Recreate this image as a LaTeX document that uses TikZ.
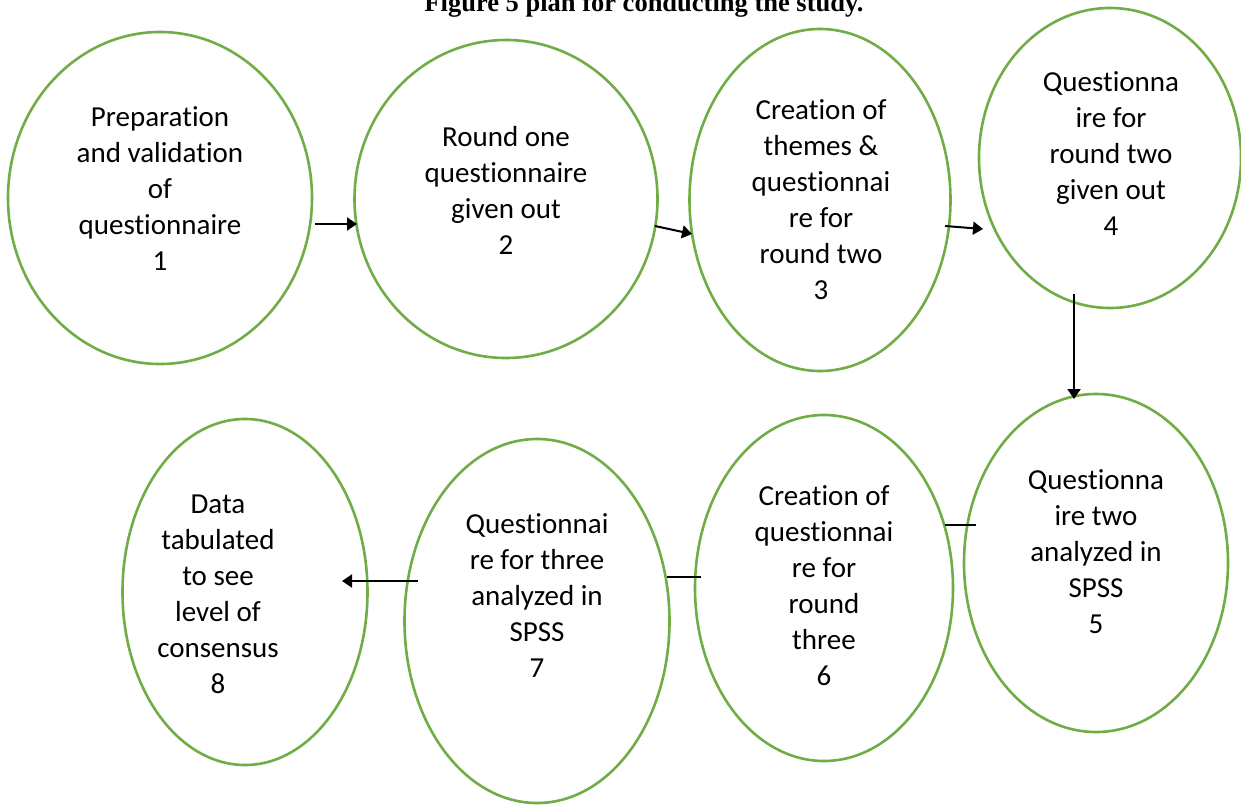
\documentclass[tikz,border=0pt]{standalone}
\usepackage{fontspec}
\setmainfont[Ligatures=NoCommon,RawFeature={-liga;-clig}]{Carlito}
\newfontfamily\titlefont{Liberation Serif}
\usetikzlibrary{shapes.geometric,arrows.meta}
\definecolor{ellgreen}{RGB}{112,173,71}
\tikzset{
  ell/.style={ellipse, draw=ellgreen, line width=2.6pt, inner sep=0pt},
  lbl/.style={align=center, font=\fontsize{29}{36}\selectfont, inner sep=0pt},
  arr/.style={line width=2pt, -{Triangle[length=10pt,width=13pt]}},
  bar/.style={line width=2pt},
}
\begin{document}
\begin{tikzpicture}[x=1pt,y=-1pt]
\clip (0,0) rectangle (1241,805);
\fill[white] (0,0) rectangle (1241,805);
\node[anchor=base, font=\titlefont\bfseries\fontsize{26.5}{30}\selectfont, inner sep=0pt] (title) at (644,11.5) {Figure 5 plan for conducting the study.};
% ellipses
\node[ell, minimum width=304pt, minimum height=332pt] (e1) at (160,198) {};
\node[ell, minimum width=303pt, minimum height=318pt] (e2) at (506,199) {};
\node[ell, minimum width=261pt, minimum height=342pt] (e3) at (820,200) {};
\node[ell, minimum width=262pt, minimum height=300pt] (e4) at (1110,158) {};
\node[ell, minimum width=264pt, minimum height=338pt] (e5) at (1096,563) {};
\node[ell, minimum width=258pt, minimum height=346pt] (e6) at (824,588) {};
\node[ell, minimum width=265pt, minimum height=364pt] (e7) at (537,621) {};
\node[ell, minimum width=245pt, minimum height=346pt] (e8) at (245,592) {};
% texts
\node[lbl] (t1) at (160,189) {Preparation\\and validation\\of\\questionnaire\\1};
\node[lbl] (t2) at (506,190) {Round one\\questionnaire\\given out\\2};
\node[lbl] (t3) at (821,200) {Creation of\\themes \&\\questionnai\\re for\\round two\\3};
\node[lbl] (t4) at (1111,154) {Questionna\\ire for\\round two\\given out\\4};
\node[lbl] (t5) at (1096,552) {Questionna\\ire two\\analyzed in\\SPSS\\5};
\node[lbl] (t6) at (824,586) {Creation of\\questionnai\\re for\\round\\three\\6};
\node[lbl] (t7) at (537,596) {Questionnai\\re for three\\analyzed in\\SPSS\\7};
\node[lbl] (t8) at (218,594) {Data\\tabulated\\to see\\level of\\consensus\\8};
% connector end points
\coordinate (c1s) at (315,224); \coordinate (c1e) at (357,224);
\coordinate (c2s) at (655,226); \coordinate (c2e) at (692,234);
\coordinate (c3s) at (945,226); \coordinate (c3e) at (983,229);
\coordinate (c4s) at (1074,294); \coordinate (c4e) at (1074,399);
\coordinate (c5s) at (945,525); \coordinate (c5e) at (976,525);
\coordinate (c6s) at (667,577); \coordinate (c6e) at (701,577);
\coordinate (c7s) at (418,581); \coordinate (c7e) at (342,581);
\draw[arr] (c1s) -- (c1e);
\draw[arr] (c2s) -- (c2e);
\draw[arr] (c3s) -- (c3e);
\draw[arr] (c4s) -- (c4e);
\draw[bar] (c5s) -- (c5e);
\draw[bar] (c6s) -- (c6e);
\draw[arr] (c7s) -- (c7e);
\end{tikzpicture}
\end{document}
